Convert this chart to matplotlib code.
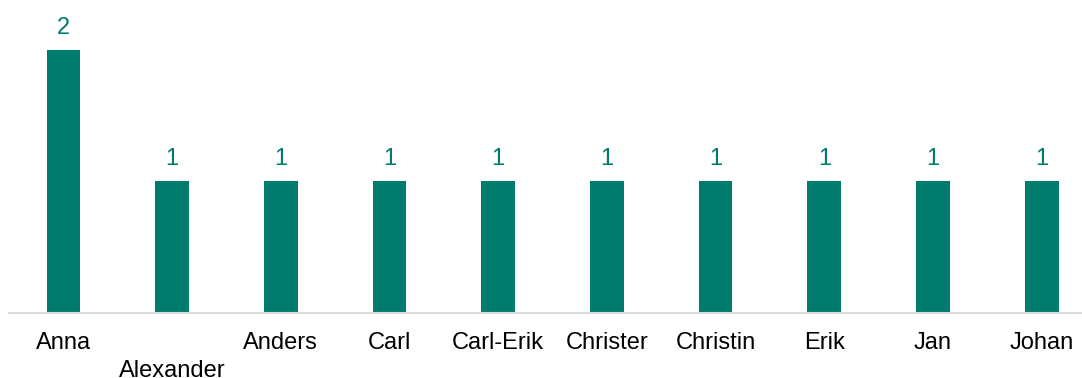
import matplotlib
matplotlib.use("Agg")
import matplotlib.pyplot as plt

names = ["Anna", "Alexander", "Anders", "Carl", "Carl-Erik", "Christer",
         "Christin", "Erik", "Jan", "Johan"]
counts = [2, 1, 1, 1, 1, 1, 1, 1, 1, 1]

teal = "#007C6E"
plt.rcParams["font.family"] = ["Liberation Sans", "DejaVu Sans"]

fig = plt.figure(figsize=(10.82, 3.78), dpi=100)
# axes from x=9px to 1082px, y from top to baseline at 313px
ax = fig.add_axes([9 / 1082, (378 - 313) / 378, (1082 - 9) / 1082, 313 / 378])

x = list(range(len(names)))
bars = ax.bar(x, counts, width=0.31, color=teal)
for b, v in zip(bars, counts):
    ax.annotate(str(v), (b.get_x() + b.get_width() / 2, v), xytext=(0, 8),
                textcoords="offset points", ha="center", va="bottom",
                fontsize=17, color=teal)

ax.set_xlim(-0.5, 9.37)
ax.set_ylim(0, 2.38)
ax.set_xticks(x)
ax.set_xticklabels(names, fontsize=17, color="#000000")
ax.tick_params(axis="x", length=0, pad=14)
ax.xaxis.get_major_ticks()[1].set_pad(14 + 19.5)
ax.set_yticks([])
for s in ["top", "right", "left"]:
    ax.spines[s].set_visible(False)
ax.spines["bottom"].set_color("#D9D9D9")
ax.spines["bottom"].set_linewidth(1.5)

fig.savefig("out.png", dpi=100)
